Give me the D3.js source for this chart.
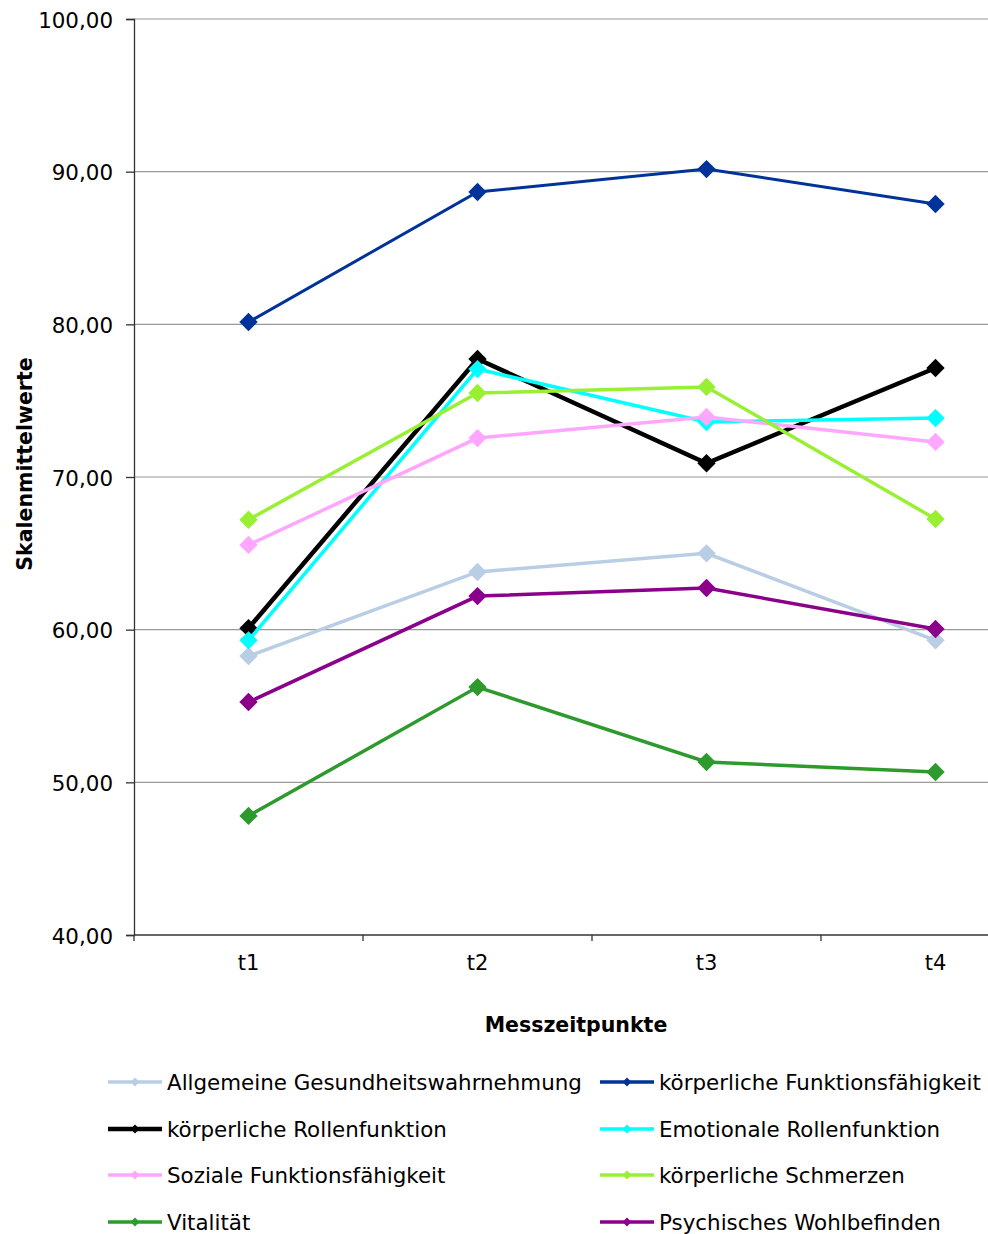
<!DOCTYPE html>
<html>
<head>
<meta charset="utf-8">
<script src="https://cdn.jsdelivr.net/npm/d3@7"></script>
<style>
  html, body { margin: 0; padding: 0; background: #fff; }
  svg { display: block; }
  text { font-family: "DejaVu Sans", Verdana, sans-serif; fill: #000; }
</style>
</head>
<body>
<svg id="chart" width="988" height="1234"></svg>
<script>
// Messzeitpunkte
const categories = ["t1", "t2", "t3", "t4"];

// SF-36 Skalenmittelwerte je Messzeitpunkt
const seriesNames = [
  "Allgemeine Gesundheitswahrnehmung",
  "körperliche Funktionsfähigkeit",
  "körperliche Rollenfunktion",
  "Emotionale Rollenfunktion",
  "Soziale Funktionsfähigkeit",
  "körperliche Schmerzen",
  "Vitalität",
  "Psychisches Wohlbefinden"
];
const allgemeineGesundheit   = [58.27, 63.78, 65.00, 59.30];
const koerperlFunktion       = [80.15, 88.67, 90.17, 87.88];
const koerperlRollen         = [60.10, 77.73, 70.90, 77.14];
const emotionaleRollen       = [59.30, 77.07, 73.60, 73.86];
const sozialeFunktion        = [65.55, 72.55, 73.93, 72.30];
const koerperlSchmerzen      = [67.20, 75.50, 75.90, 67.25];
const vitalitaet             = [47.80, 56.24, 51.33, 50.68];
const psychWohlbefinden      = [55.26, 62.20, 62.73, 60.04];

const yTicks = [40, 50, 60, 70, 80, 90, 100];

const seriesValues = [allgemeineGesundheit, koerperlFunktion, koerperlRollen, emotionaleRollen,
                      sozialeFunktion, koerperlSchmerzen, vitalitaet, psychWohlbefinden];
const colors = ["#B9CDE5", "#003399", "#000000", "#00FFFF", "#FFA6FF", "#99F033", "#2E9A2E", "#8B008B"];
const widths = [3.5, 3, 4.5, 3.5, 3.5, 3.5, 3.5, 3.5];

const svg = d3.select("#chart");
const plotLeft = 134, plotTop = 19, plotBottom = 935, bandW = 229;

const x = d3.scaleBand().domain(categories).range([plotLeft, plotLeft + bandW * categories.length]);
const y = d3.scaleLinear().domain([40, 100]).range([plotBottom, plotTop]);

function label(g, str, tx, ty, opts = {}) {
  const rot = opts.rotate ? ` rotate(${opts.rotate})` : "";
  return g.append("text")
    .attr("transform", `translate(${tx},${ty})${rot}`)
    .attr("text-anchor", opts.anchor || "start")
    .attr("font-size", opts.size || 21)
    .attr("font-weight", opts.bold ? "bold" : "normal")
    .text(str);
}

// Gitterlinien
svg.append("g").selectAll("line").data(yTicks.slice(1)).join("line")
  .attr("x1", plotLeft).attr("x2", 988)
  .attr("y1", d => y(d)).attr("y2", d => y(d))
  .attr("stroke", "#999").attr("stroke-width", 1.2);

// y-Achse
const fmt = d => d3.format(".2f")(d).replace(".", ",");
const yAxis = svg.append("g").attr("transform", `translate(${plotLeft},0)`)
  .call(d3.axisLeft(y).tickValues(yTicks).tickSize(8).tickFormat(fmt));
yAxis.select(".domain").attr("stroke", "#333").attr("stroke-width", 1.3);
yAxis.selectAll(".tick line").attr("stroke", "#333").attr("stroke-width", 1.3);
yAxis.selectAll(".tick text").remove();
yAxis.selectAll(".tick").each(function(d) {
  label(d3.select(this), fmt(d), -21, 8, { anchor: "end", size: 21.4 });
});

// x-Achse
const xAxis = svg.append("g").attr("transform", `translate(0,${plotBottom})`);
xAxis.append("line").attr("x1", plotLeft).attr("x2", 988).attr("y1", 0).attr("y2", 0)
  .attr("stroke", "#333").attr("stroke-width", 1.3);
xAxis.selectAll("line.tk").data(categories).join("line").attr("class", "tk")
  .attr("x1", d => x(d)).attr("x2", d => x(d)).attr("y1", 0).attr("y2", 6)
  .attr("stroke", "#333").attr("stroke-width", 1.3);
categories.forEach(c => label(xAxis, c, x(c) + x.bandwidth() / 2, 35, { anchor: "middle" }));

// Achsentitel
label(svg, "Skalenmittelwerte", 32, 464, { anchor: "middle", size: 20.5, bold: true, rotate: -90 });
label(svg, "Messzeitpunkte", 576, 1032, { anchor: "middle", size: 20.5, bold: true });

// Linien und Marker
const cx = c => x(c) + x.bandwidth() / 2;
const line = d3.line().x((d, i) => cx(categories[i])).y(d => y(d));
const diamond = d3.symbol().type(d3.symbolDiamond2).size(215);
const smallDiamond = d3.symbol().type(d3.symbolDiamond2).size(50);

seriesValues.forEach((vals, s) => {
  const g = svg.append("g");
  g.append("path").datum(vals).attr("d", line)
    .attr("fill", "none").attr("stroke", colors[s]).attr("stroke-width", widths[s])
    .attr("stroke-linejoin", "miter");
  g.selectAll("path.m").data(vals).join("path").attr("class", "m")
    .attr("d", diamond)
    .attr("transform", (d, i) => `translate(${cx(categories[i])},${y(d)})`)
    .attr("fill", colors[s]);
});

// Legende
const legend = svg.append("g");
const colX = [108, 600];
const rowY = [1082, 1129, 1175, 1222];
seriesNames.forEach((name, i) => {
  const lx = colX[i % 2], ly = rowY[Math.floor(i / 2)];
  const g = legend.append("g");
  g.append("line").attr("x1", lx).attr("x2", lx + 54).attr("y1", ly).attr("y2", ly)
    .attr("stroke", colors[i]).attr("stroke-width", i === 2 ? 4.5 : 3.5);
  g.append("path").attr("d", smallDiamond).attr("transform", `translate(${lx + 27},${ly})`)
    .attr("fill", colors[i]);
  label(g, name, lx + 59, ly + 8, { size: 21.4 });
});
</script>
</body>
</html>
